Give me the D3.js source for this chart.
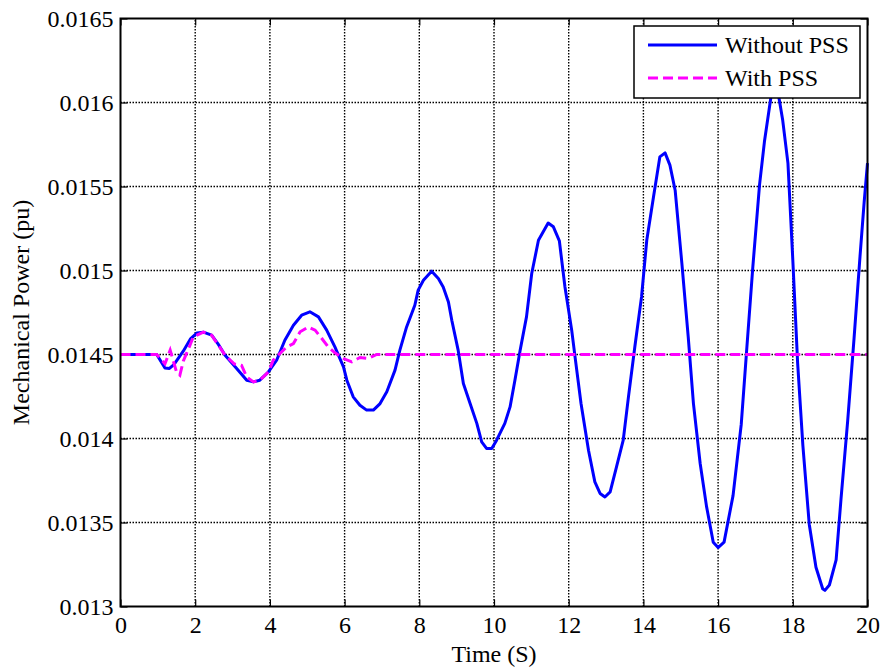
<!DOCTYPE html>
<html><head><meta charset="utf-8">
<script src="https://cdn.jsdelivr.net/npm/d3@7"></script>
<style>body{margin:0;background:#fff;} svg{display:block;}</style>
</head><body>
<script>
const xTicks = [0,2,4,6,8,10,12,14,16,18,20];
const yTicks = [0.013,0.0135,0.014,0.0145,0.015,0.0155,0.016,0.0165];
const yTickLabels = ["0.013","0.0135","0.014","0.0145","0.015","0.0155","0.016","0.0165"];
const seriesNames = ["Without PSS","With PSS"];
const xLabel = "Time (S)";
const yLabel = "Mechanical Power (pu)";

const withoutT = [0,0.97,1.19,1.31,1.43,1.68,1.88,2.05,2.22,2.44,2.62,2.8,3.11,3.38,3.56,3.73,3.96,4.18,4.4,4.63,4.85,5.07,5.3,5.52,5.74,5.97,6.06,6.23,6.41,6.59,6.77,6.95,7.13,7.35,7.48,7.66,7.88,7.97,8.11,8.33,8.51,8.64,8.78,8.87,9.04,9.18,9.36,9.54,9.67,9.8,9.94,10.07,10.29,10.43,10.56,10.7,10.87,11.01,11.19,11.45,11.59,11.75,11.9,12.08,12.17,12.33,12.53,12.7,12.84,12.97,13.11,13.28,13.46,13.6,13.77,13.95,14.09,14.27,14.44,14.58,14.71,14.85,15.03,15.2,15.34,15.52,15.69,15.87,16.0,16.16,16.4,16.62,16.76,16.93,17.11,17.24,17.42,17.52,17.62,17.73,17.87,18.0,18.13,18.27,18.44,18.62,18.8,18.86,18.98,19.16,19.29,19.47,19.64,19.8,19.91,20];
const withoutV = [0.0145,0.0145,0.01442,0.014417,0.01444,0.01452,0.014595,0.014628,0.014633,0.014615,0.01456,0.014496,0.014417,0.014347,0.014337,0.014347,0.014396,0.014466,0.014585,0.014674,0.014734,0.014754,0.014724,0.014645,0.014545,0.014426,0.014347,0.014248,0.014198,0.014169,0.014169,0.014208,0.014278,0.014407,0.014526,0.014664,0.014793,0.014883,0.014942,0.014996,0.014952,0.014902,0.014813,0.014704,0.014526,0.014327,0.014208,0.01409,0.01398,0.013941,0.013941,0.01399,0.01409,0.014188,0.014347,0.014526,0.014724,0.014982,0.01518,0.015283,0.01526,0.015176,0.014902,0.014645,0.014486,0.014208,0.01393,0.013742,0.013673,0.013652,0.013682,0.013831,0.01399,0.014248,0.014545,0.014843,0.01518,0.015438,0.015676,0.0157,0.015627,0.015478,0.015042,0.014605,0.014208,0.013851,0.013596,0.013383,0.013351,0.013383,0.01366,0.014085,0.014511,0.015022,0.015511,0.015766,0.01604,0.01609,0.01604,0.015894,0.015639,0.015064,0.014447,0.013958,0.01349,0.013234,0.013106,0.013096,0.013128,0.013277,0.013638,0.014106,0.014596,0.015085,0.015405,0.015639];

const withT = [0,0.97,1.19,1.33,1.5,1.59,1.68,1.86,1.95,2.22,2.44,2.8,3.05,3.24,3.38,3.56,3.73,3.96,4.09,4.27,4.45,4.63,4.81,5.03,5.21,5.39,5.56,5.74,5.97,6.19,6.41,6.63,6.86,20];
const withV = [0.0145,0.0145,0.014444,0.014526,0.014396,0.014377,0.01446,0.014555,0.014605,0.014633,0.014615,0.014496,0.014443,0.014436,0.014366,0.014337,0.014347,0.014396,0.014466,0.014506,0.014545,0.014565,0.014635,0.014664,0.014645,0.014595,0.014545,0.01451,0.014476,0.014456,0.014482,0.014476,0.0145,0.0145];

const W = 889, H = 669;
const m = {left:120.5, right:W-867.5, top:18.5, bottom:H-606.5};
const svg = d3.select("body").append("svg").attr("width",W).attr("height",H);
const x = d3.scaleLinear().domain([0,20]).range([m.left, W-m.right]);
const y = d3.scaleLinear().domain([0.013,0.0165]).range([H-m.bottom, m.top]);
const FONT = "'Liberation Serif','Times New Roman',serif";
const FS = 24;

// grid
const g = svg.append("g");
g.selectAll("line.gx").data(xTicks.slice(1,-1)).join("line")
  .attr("x1",d=>x(d)).attr("x2",d=>x(d)).attr("y1",y(0.013)).attr("y2",y(0.0165))
  .attr("stroke","#000").attr("stroke-width",1.4).attr("stroke-dasharray","1.5,1.5");
g.selectAll("line.gy").data(yTicks.slice(1,-1)).join("line")
  .attr("y1",d=>y(d)).attr("y2",d=>y(d)).attr("x1",x(0)).attr("x2",x(20))
  .attr("stroke","#000").attr("stroke-width",1.4).attr("stroke-dasharray","1.5,1.5");

// axes with inward ticks on all sides
const tl = 7;
const axB = d3.axisBottom(x).tickValues(xTicks).tickSize(-tl).tickFormat(d3.format("d"));
const axT = d3.axisTop(x).tickValues(xTicks).tickSize(-tl).tickFormat("");
const axL = d3.axisLeft(y).tickValues(yTicks).tickSize(-tl).tickFormat((d,i)=>yTickLabels[i]);
const axR = d3.axisRight(y).tickValues(yTicks).tickSize(-tl).tickFormat("");
function style(sel){
  sel.select(".domain").remove();
  sel.selectAll("line").attr("stroke","#000").attr("stroke-width",1.2);
  sel.selectAll("text").attr("font-family",FONT).attr("font-size",FS).attr("fill","#000");
}
svg.append("g").attr("transform",`translate(0,${y(0.013)})`).call(axB).call(style)
  .selectAll("text").attr("dy","0.71em").attr("y",9);
svg.append("g").attr("transform",`translate(0,${y(0.0165)})`).call(axT).call(style);
svg.append("g").attr("transform",`translate(${x(0)},0)`).call(axL).call(style)
  .selectAll("text").attr("x",-7).attr("dy","0.32em");
svg.append("g").attr("transform",`translate(${x(20)},0)`).call(axR).call(style);

// lines
const line = d3.line().x(d=>x(d[0])).y(d=>y(d[1]));
const plot = svg.append("g");
plot.append("path").datum(withoutT.map((t,i)=>[t,withoutV[i]]))
  .attr("d",line).attr("fill","none").attr("stroke","#0000ff").attr("stroke-width",3).attr("stroke-linejoin","round");
plot.append("path").datum(withT.map((t,i)=>[t,withV[i]]))
  .attr("d",line).attr("fill","none").attr("stroke","#ff00ff").attr("stroke-width",3).attr("stroke-dasharray","10,5");

// box
svg.append("rect").attr("x",x(0)).attr("y",y(0.0165)).attr("width",x(20)-x(0)).attr("height",y(0.013)-y(0.0165))
  .attr("fill","none").attr("stroke","#000").attr("stroke-width",2);

// labels
svg.append("text").attr("x",(x(0)+x(20))/2).attr("y",662).attr("text-anchor","middle")
  .attr("font-family",FONT).attr("font-size",FS).text(xLabel);
svg.append("text").attr("transform",`translate(29,${(y(0.013)+y(0.0165))/2}) rotate(-90)`).attr("text-anchor","middle")
  .attr("font-family",FONT).attr("font-size",FS).text(yLabel);

// legend
const lg = svg.append("g");
lg.append("rect").attr("x",634).attr("y",26).attr("width",226).attr("height",72)
  .attr("fill","#fff").attr("stroke","#000").attr("stroke-width",1.5);
const colors = ["#0000ff","#ff00ff"], dashes=[null,"10,5"];
seriesNames.forEach((n,i)=>{
  const yy = 45 + i*33;
  lg.append("line").attr("x1",648).attr("x2",717).attr("y1",yy).attr("y2",yy)
    .attr("stroke",colors[i]).attr("stroke-width",3).attr("stroke-dasharray",dashes[i]);
  lg.append("text").attr("x",725).attr("y",yy).attr("dy","0.35em")
    .attr("font-family",FONT).attr("font-size",FS).text(n);
});
</script>
</body></html>
